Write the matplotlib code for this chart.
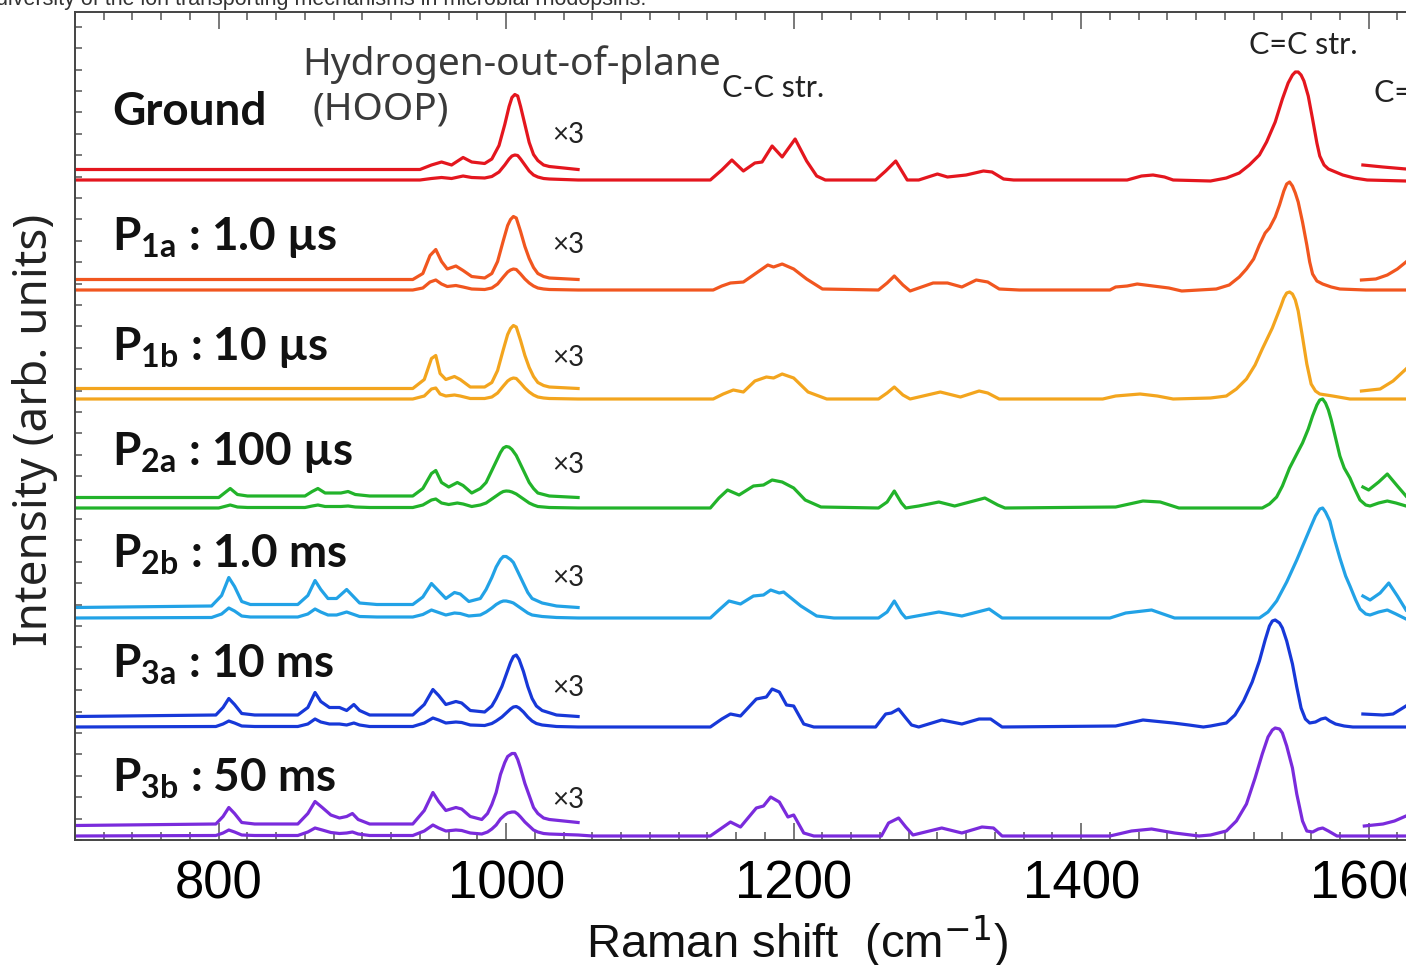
import matplotlib
matplotlib.use("Agg")
import matplotlib.pyplot as plt
from matplotlib import font_manager
from matplotlib.ticker import MultipleLocator

# Raman spectra: (wavenumber cm-1, height above the trace baseline)
# hoop = 700-1050 region (also drawn x3), rest = 1050-1626, right = scaled C=N piece

ground_hoop = [(700, 0), (940, 0), (948, 1.5), (955, 2.5), (962, 1.5), (970, 4), (976, 2.5), (985, 2),
               (990, 3.5), (995, 8), (999, 15), (1002, 21), (1004, 24), (1006, 25), (1008, 24.5),
               (1010, 21), (1013, 15), (1016, 9), (1019, 5), (1022, 3), (1026, 1.5), (1030, 1),
               (1040, 0.5), (1050, 0)]
ground_rest = [(1060, 0), (1142, 0), (1150, 10), (1157, 20), (1165, 9), (1173, 17), (1178, 18), (1185, 34),
               (1192, 23), (1201, 41), (1209, 19), (1216, 4), (1222, 0), (1257, 0), (1264, 9), (1271, 19),
               (1279, 0), (1287, 0), (1300, 6), (1307, 3), (1320, 5), (1332, 9), (1338, 8), (1346, 1),
               (1353, 0), (1432, 0), (1442, 4), (1450, 5), (1458, 3), (1464, 0), (1490, -1), (1501, 2),
               (1510, 7), (1517, 15), (1524, 25), (1529, 38), (1535, 58), (1540, 81), (1544, 97),
               (1547, 105), (1549, 108), (1551, 108), (1553, 105), (1555, 99), (1558, 84), (1561, 61),
               (1564, 37), (1566, 24), (1569, 15), (1572, 11), (1577, 8), (1582, 5), (1590, 2), (1599, 0),
               (1626, -1)]
ground_right = [(1596, 15), (1610, 13), (1626, 11)]

p1a_hoop = [(700, 0), (935, 0), (942, 2), (947, 8), (951, 10), (955, 6), (959, 3.5), (965, 4.5), (970, 3),
            (976, 1), (985, 0.5), (990, 2), (994, 6), (998, 13), (1001, 18), (1003, 20), (1005, 21),
            (1007, 20.5), (1010, 16), (1013, 11), (1016, 7), (1019, 4), (1022, 2), (1026, 1), (1030, 0.5),
            (1050, 0)]
p1a_rest = [(1144, 0), (1150, 4), (1156, 7), (1165, 8), (1174, 17), (1182, 25), (1186, 23), (1192, 26),
            (1200, 21), (1209, 11), (1220, 1), (1259, 0), (1265, 7), (1270, 14), (1276, 5), (1281, -1),
            (1289, 3), (1297, 7), (1307, 7), (1317, 3), (1327, 10), (1335, 8), (1343, 1), (1357, 0),
            (1420, 0), (1424, 3), (1432, 4), (1439, 6), (1450, 4), (1461, 2), (1470, -1), (1494, 1),
            (1503, 5), (1510, 13), (1515, 21), (1520, 31), (1524, 45), (1528, 57), (1531, 62), (1535, 73),
            (1538, 85), (1541, 99), (1543, 106), (1545, 108), (1547, 104), (1549, 97), (1551, 88),
            (1554, 68), (1557, 45), (1559, 28), (1561, 16), (1564, 9), (1568, 6), (1574, 3), (1580, 1),
            (1598, 0), (1626, 0)]
p1a_right = [(1595, 10), (1605, 11), (1613, 15), (1620, 21), (1626, 28)]

p1b_hoop = [(700, 0), (935, 0), (943, 3), (948, 10), (951, 11), (954, 5), (958, 3), (964, 4), (968, 3),
            (975, 0.5), (985, 0.5), (990, 2), (994, 6), (998, 13), (1001, 18), (1003, 20), (1005, 21),
            (1007, 20.5), (1010, 16), (1013, 11), (1016, 7), (1019, 4), (1022, 2), (1026, 1), (1030, 0.5),
            (1050, 0)]
p1b_rest = [(1144, 0), (1151, 5), (1158, 9), (1165, 7), (1173, 18), (1181, 22), (1186, 21), (1192, 25),
            (1200, 21), (1210, 7), (1223, 0), (1259, 0), (1265, 6), (1270, 12), (1276, 4), (1281, 0),
            (1302, 7), (1316, 2), (1329, 8), (1335, 6), (1343, 0), (1415, 0), (1424, 3), (1441, 5),
            (1453, 3), (1464, 0), (1490, 1), (1501, 3), (1508, 10), (1515, 20), (1521, 34), (1526, 50),
            (1530, 62), (1533, 71), (1536, 82), (1539, 93), (1541, 101), (1543, 106), (1545, 107),
            (1547, 105), (1549, 99), (1551, 88), (1554, 62), (1557, 35), (1560, 15), (1563, 8), (1566, 5),
            (1575, 3), (1587, 0), (1626, 0)]
p1b_right = [(1595, 8), (1608, 10), (1617, 18), (1626, 30)]

p2a_hoop = [(700, 0), (800, 0), (804, 1.5), (808, 3), (813, 1), (820, 0.5), (860, 0.5), (865, 2), (869, 3),
            (874, 1.5), (885, 1.5), (890, 2), (895, 1), (905, 0.5), (935, 0.5), (942, 3), (948, 8),
            (951, 9), (955, 5), (960, 3.5), (966, 5), (970, 4), (976, 1.5), (982, 3), (986, 5), (990, 9),
            (993, 12), (996, 15), (998, 16.5), (1000, 17), (1002, 16.8), (1004, 16), (1007, 14), (1010, 11),
            (1013, 8), (1016, 5), (1019, 3), (1022, 1.5), (1030, 0.5), (1050, 0)]
p2a_rest = [(1142, 0), (1148, 10), (1154, 18), (1162, 13), (1172, 22), (1179, 23), (1185, 28), (1192, 26),
            (1200, 20), (1208, 8), (1219, 1), (1259, 0), (1265, 6), (1270, 17), (1275, 5), (1278, 0),
            (1287, 2), (1301, 6), (1312, 2), (1333, 10), (1342, 3), (1347, 0), (1424, 1), (1443, 7),
            (1455, 6), (1468, 0), (1526, 0), (1531, 4), (1536, 11), (1540, 22), (1545, 40), (1550, 54),
            (1554, 65), (1558, 79), (1561, 92), (1564, 103), (1566, 108), (1568, 109), (1570, 105),
            (1572, 98), (1574, 88), (1577, 70), (1580, 52), (1583, 40), (1587, 30), (1590, 20), (1594, 8),
            (1598, 3), (1601, 2), (1607, 5), (1613, 7), (1619, 5), (1626, 2)]
p2a_right = [(1596, 21), (1600, 18), (1607, 26), (1613, 34), (1620, 22), (1626, 12)]

p2b_hoop = [(700, 0), (795, 0.5), (802, 4), (807, 10), (811, 7), (816, 2), (822, 1), (855, 1), (862, 4),
            (867, 9), (871, 6), (876, 3), (882, 3), (889, 6), (893, 4), (898, 1.5), (910, 1), (935, 1),
            (942, 3.5), (948, 8), (952, 6), (958, 3), (964, 5), (968, 4.5), (974, 2), (982, 3), (986, 6),
            (990, 10), (993, 13.5), (996, 16), (998, 17), (1000, 17), (1003, 16), (1005, 15), (1009, 11),
            (1012, 8), (1015, 5), (1018, 3), (1025, 1.5), (1035, 0.5), (1050, 0)]
p2b_rest = [(1142, 0), (1148, 8), (1155, 17), (1163, 14), (1172, 22), (1179, 23), (1184, 28), (1190, 25),
            (1193, 26), (1205, 12), (1216, 2), (1228, 0), (1259, 0), (1265, 6), (1270, 17), (1275, 5),
            (1278, 0), (1301, 6), (1317, 2), (1336, 9), (1345, 0), (1420, 0), (1431, 5), (1449, 8),
            (1465, 0), (1524, 0), (1530, 6), (1536, 17), (1543, 36), (1550, 58), (1555, 75), (1560, 92),
            (1563, 102), (1566, 109), (1568, 110), (1570, 106), (1573, 97), (1576, 80), (1580, 60),
            (1584, 42), (1587, 32), (1591, 18), (1594, 9), (1598, 4), (1601, 3), (1607, 6), (1613, 8),
            (1619, 4), (1626, -1)]
p2b_right = [(1596, 22), (1601, 18), (1608, 25), (1614, 35), (1620, 22), (1626, 8)]

p3a_hoop = [(700, 0), (798, 0.5), (803, 3), (807, 6), (811, 4), (816, 1), (825, 0.5), (855, 0.5), (862, 3),
            (867, 8), (871, 5), (877, 3), (884, 3), (889, 2), (894, 4), (898, 2), (905, 0.5), (935, 0.5),
            (943, 4), (949, 9), (953, 7), (958, 4), (965, 5), (969, 4.5), (975, 2), (985, 1.5), (990, 3.5),
            (993, 6), (997, 10), (1000, 14), (1003, 18), (1005, 20), (1007, 20.5), (1009, 19), (1012, 15),
            (1015, 10), (1018, 6), (1021, 3.5), (1025, 2), (1035, 0.5), (1050, 0)]
p3a_rest = [(1142, 0), (1150, 8), (1156, 13), (1163, 11), (1174, 28), (1181, 30), (1185, 38), (1190, 35),
            (1195, 22), (1200, 21), (1207, 3), (1214, 0), (1257, 0), (1264, 13), (1268, 14), (1273, 18),
            (1278, 9), (1282, 2), (1287, 0), (1303, 7), (1317, 3), (1329, 8), (1337, 8), (1345, 0),
            (1424, 1), (1443, 7), (1464, 4), (1475, 2), (1485, 0), (1490, 1), (1501, 4), (1507, 12),
            (1513, 26), (1519, 45), (1524, 66), (1528, 87), (1531, 101), (1533, 106), (1535, 107),
            (1538, 104), (1540, 99), (1543, 86), (1547, 63), (1550, 40), (1553, 19), (1556, 8), (1559, 4),
            (1563, 5), (1567, 8), (1570, 9), (1573, 6), (1577, 3), (1583, 1), (1589, 0), (1626, 0)]
p3a_right = [(1596, 13), (1610, 12), (1617, 13), (1626, 21)]

p3b_hoop = [(700, 0), (798, 0.5), (803, 3), (807, 6), (811, 4), (816, 1), (825, 0.5), (855, 0.5), (862, 4),
            (867, 8), (872, 6), (878, 3.5), (884, 2.5), (889, 3), (893, 4), (897, 2), (905, 0.5), (935, 0.5),
            (943, 5), (949, 11), (953, 8), (958, 5), (965, 6), (969, 5.5), (975, 3), (983, 2), (987, 4),
            (990, 7), (993, 11), (996, 17), (999, 21), (1001, 23), (1004, 24), (1006, 24), (1008, 22),
            (1010, 19), (1013, 14), (1016, 10), (1019, 6), (1022, 4), (1026, 2.5), (1030, 2), (1040, 1.5),
            (1050, 1)]
p3b_rest = [(1060, 0), (1142, 0), (1150, 8), (1156, 14), (1163, 9), (1174, 28), (1179, 30), (1184, 39),
            (1190, 34), (1196, 19), (1200, 21), (1207, 3), (1214, 0), (1261, 0), (1266, 13), (1273, 18),
            (1278, 9), (1283, 1), (1303, 8), (1317, 3), (1331, 9), (1339, 8), (1345, 0), (1420, 0),
            (1435, 5), (1449, 7), (1465, 3), (1482, 0), (1490, 1), (1501, 5), (1508, 15), (1515, 32),
            (1521, 58), (1526, 82), (1530, 99), (1533, 106), (1535, 108), (1538, 107), (1540, 103),
            (1543, 90), (1547, 68), (1550, 42), (1554, 15), (1557, 5), (1561, 4), (1565, 7), (1568, 8),
            (1572, 5), (1578, 0), (1626, 0)]
p3b_right = [(1597, 10), (1610, 12), (1618, 15), (1626, 20)]

state_names = ["Ground", "1a", "1b", "2a", "2b", "3a", "3b"]
state_times = ["", "1.0 µs", "10 µs", "100 µs", "1.0 ms", "10 ms", "50 ms"]
colors = ["#e4161e", "#f1561f", "#f3a51e", "#22b32a", "#22a2e6", "#1738d8", "#7a2bdc"]
baselines = [660, 550, 441, 332, 222, 113, 4]
x3_factor = 3
x3_offset = 10.5

states = [
    (ground_hoop, ground_rest, ground_right),
    (p1a_hoop, p1a_rest, p1a_right),
    (p1b_hoop, p1b_rest, p1b_right),
    (p2a_hoop, p2a_rest, p2a_right),
    (p2b_hoop, p2b_rest, p2b_right),
    (p3a_hoop, p3a_rest, p3a_right),
    (p3b_hoop, p3b_rest, p3b_right),
]

installed = {f.name for f in font_manager.fontManager.ttflist}
narrow = "Liberation Sans Narrow" if "Liberation Sans Narrow" in installed else "Liberation Sans"
label_font = ["Lato", "DejaVu Sans"]

plt.rcParams["mathtext.fontset"] = "custom"
plt.rcParams["mathtext.rm"] = "Lato"
plt.rcParams["mathtext.bf"] = "Lato:bold"
plt.rcParams["mathtext.it"] = "Lato:italic"


def split(points):
    return [p[0] for p in points], [p[1] for p in points]


fig = plt.figure(figsize=(14.06, 9.65), dpi=100)
ax = fig.add_axes([75 / 1406, 125 / 965, 1331 / 1406, 828 / 965])

lw = 2.3
for (hoop, rest, right), base, col in zip(states, baselines, colors):
    hx, hy = split(hoop)
    rx, ry = split(rest)
    # full spectrum
    ax.plot(hx + rx, [base + v for v in hy + ry], color=col, lw=lw, solid_joinstyle="round")
    # x3 magnified HOOP region
    ax.plot(hx, [base + x3_offset + x3_factor * v for v in hy], color=col, lw=lw, solid_joinstyle="round")
    # magnified piece on the right edge
    sx, sy = split(right)
    ax.plot(sx, [base + v for v in sy], color=col, lw=lw, solid_joinstyle="round")

# state labels
label_y = [715, 590, 480, 375, 272, 162, 48]
for name, t, y in zip(state_names, state_times, label_y):
    if name == "Ground":
        s = "Ground"
    else:
        s = r"$\mathbf{P}_{\mathbf{" + name + r"}}$ : " + t
    ax.text(726, y, s, fontsize=33, fontweight="bold", family=label_font, va="baseline", ha="left",
            color="#111111")

x3_y = [705, 595, 482, 375, 262, 152, 40]
for y in x3_y:
    ax.text(1032, y, "×3", fontsize=20, family=label_font, va="center", ha="left", color="#222222")

ax.text(858, 775, "Hydrogen-out-of-plane", fontsize=28, family=["Noto Sans", "DejaVu Sans"],
        va="center", ha="left", color="#3a3a3a")
ax.text(865, 730, "(HOOP)", fontsize=28, family=["Noto Sans", "DejaVu Sans"],
        va="center", ha="left", color="#3a3a3a")
ax.text(1150, 752, "C-C str.", fontsize=22, family=label_font, va="center", ha="left", color="#222222")
ax.text(1517, 795, "C=C str.", fontsize=22, family=label_font, va="center", ha="left", color="#222222")
ax.text(1604, 747, "C=N str.", fontsize=22, family=label_font, va="center", ha="left", color="#222222",
        clip_on=False)

ax.set_xlim(700, 1626)
ax.set_ylim(0, 828)

ax.xaxis.set_major_locator(MultipleLocator(200))
ax.xaxis.set_minor_locator(MultipleLocator(20))
ax.yaxis.set_major_locator(MultipleLocator(21.4))
ax.tick_params(axis="x", which="both", direction="in", top=True, bottom=True, color="#555555", width=1.1)
ax.tick_params(axis="x", which="major", length=12, pad=14, labelsize=38)
ax.tick_params(axis="x", which="minor", length=6)
ax.tick_params(axis="y", which="both", direction="in", left=True, right=False, length=5, color="#555555",
               width=1.1, labelleft=False)
for lab in ax.get_xticklabels():
    lab.set_family(narrow)

for side in ["left", "top", "bottom"]:
    ax.spines[side].set_color("#444444")
    ax.spines[side].set_linewidth(1.4)
ax.spines["right"].set_visible(False)

fig.text(35 / 1406, 1 - 430 / 965, "Intensity (arb. units)", rotation=90, fontsize=33,
         family=["Noto Sans", "DejaVu Sans"], va="center", ha="center", color="#222222")
fig.text(797 / 1406, 1 - 942 / 965, r"Raman shift  (cm$^{-1}$)", fontsize=34, family=narrow,
         va="center", ha="center", color="#111111", math_fontfamily="dejavusans")

# caption from the page above, cut by the crop
fig.text(-0.003, 1 - 5 / 965, "diversity of the ion transporting mechanisms in microbial rhodopsins.",
         fontsize=15.5, family=["Liberation Sans", "DejaVu Sans"], va="baseline", ha="left", color="#333333")

fig.savefig("out.png", dpi=100)
